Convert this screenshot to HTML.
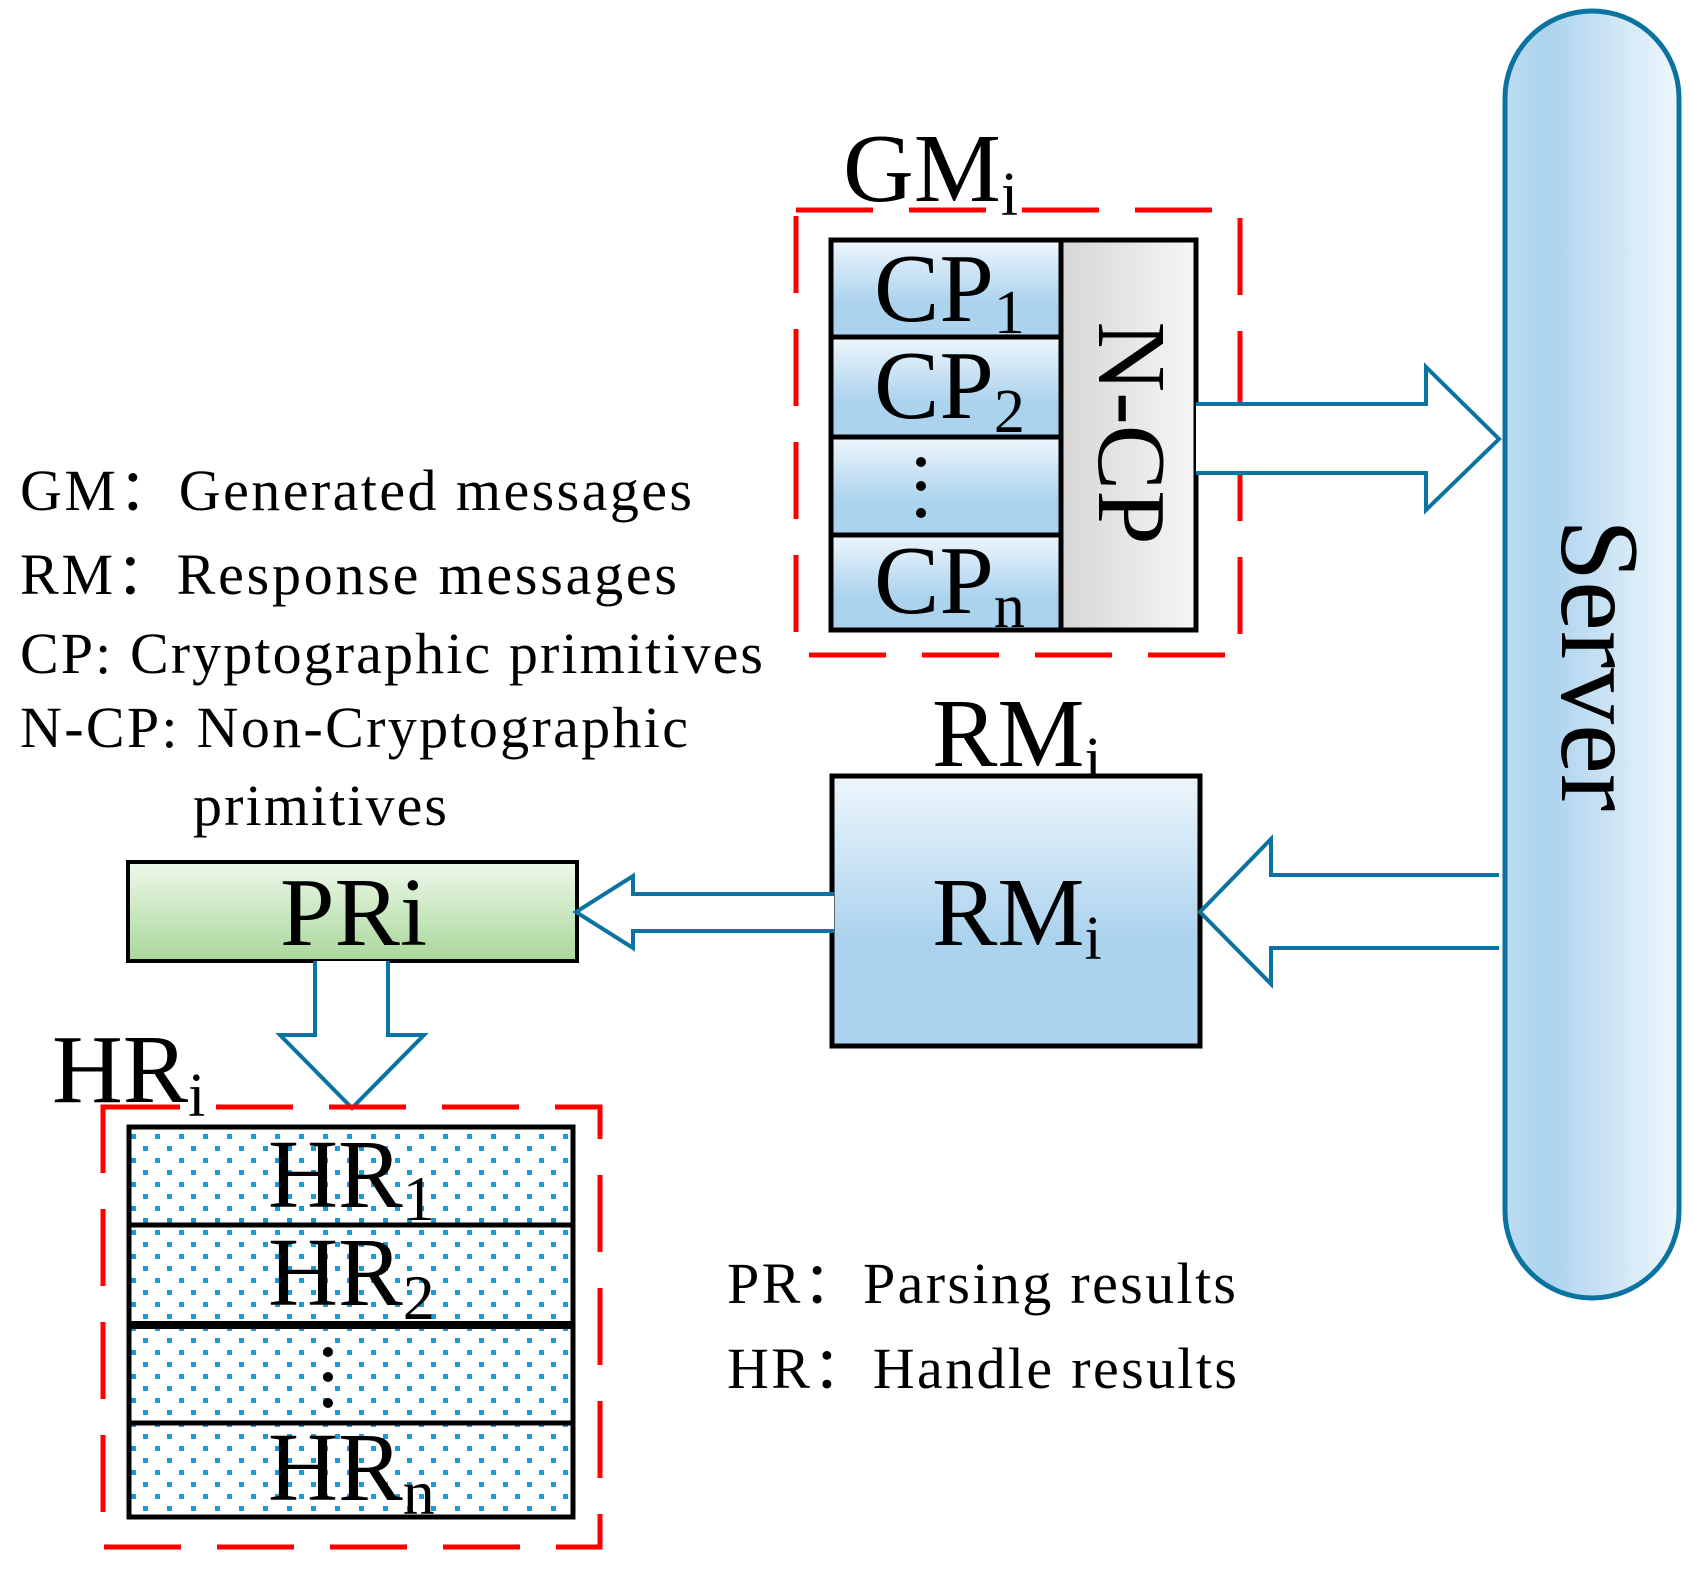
<!DOCTYPE html>
<html><head><meta charset="utf-8"><style>
html,body{margin:0;padding:0;background:#fff;}
svg{display:block;}
text{font-family:"Liberation Serif",serif;fill:#000;}
</style></head><body>
<svg width="1694" height="1569" viewBox="0 0 1694 1569" xmlns="http://www.w3.org/2000/svg">
<defs>
<linearGradient id="blueV" x1="0" y1="0" x2="0" y2="1">
<stop offset="0" stop-color="#eef6fc"/><stop offset="0.65" stop-color="#acd3ee"/><stop offset="1" stop-color="#acd3ee"/>
</linearGradient>
<linearGradient id="greyH" x1="0" y1="0" x2="1" y2="0">
<stop offset="0" stop-color="#d6d6d6"/><stop offset="1" stop-color="#f6f6f6"/>
</linearGradient>
<linearGradient id="serverH" x1="0" y1="0" x2="1" y2="0">
<stop offset="0" stop-color="#bcdcf0"/><stop offset="0.25" stop-color="#acd3ee"/><stop offset="1" stop-color="#eff7fc"/>
</linearGradient>
<linearGradient id="greenV" x1="0" y1="0" x2="0" y2="1">
<stop offset="0" stop-color="#eef8ea"/><stop offset="1" stop-color="#a9d79a"/>
</linearGradient>
<linearGradient id="rmV" x1="0" y1="0" x2="0" y2="1">
<stop offset="0" stop-color="#eef6fc"/><stop offset="0.6" stop-color="#acd3ee"/><stop offset="1" stop-color="#acd3ee"/>
</linearGradient>
<pattern id="dots" x="127" y="1125" width="24" height="24" patternUnits="userSpaceOnUse">
<rect width="24" height="24" fill="#fff"/>
<rect x="4" y="9" width="5" height="5" fill="#1e9ad6"/>
<rect x="16" y="21" width="5" height="5" fill="#1e9ad6"/>
<rect x="16" y="-3" width="5" height="5" fill="#1e9ad6"/>
</pattern>
</defs>

<!-- Server -->
<rect x="1505" y="11" width="174" height="1287" rx="87" ry="87" fill="url(#serverH)" stroke="#0b73a0" stroke-width="5"/>
<text x="0" y="0" font-size="112" text-anchor="middle" transform="translate(1562,665) rotate(90)">Server</text>

<!-- GM dashed -->
<rect x="796" y="210" width="444" height="445" fill="none" stroke="#ff0000" stroke-width="5" stroke-dasharray="77 36"/>
<text x="843" y="201" font-size="98">GM<tspan font-size="62" dy="14">i</tspan></text>
<rect x="831" y="240" width="230" height="97" fill="url(#blueV)"/>
<rect x="831" y="337" width="230" height="100" fill="url(#blueV)"/>
<rect x="831" y="437" width="230" height="98" fill="url(#blueV)"/>
<rect x="831" y="535" width="230" height="95" fill="url(#blueV)"/>
<rect x="1061" y="240" width="135" height="390" fill="url(#greyH)"/>
<rect x="831" y="240" width="365" height="390" fill="none" stroke="#000" stroke-width="5"/>
<line x1="1061" y1="238" x2="1061" y2="632" stroke="#000" stroke-width="5"/>
<line x1="831" y1="337" x2="1061" y2="337" stroke="#000" stroke-width="5"/>
<line x1="831" y1="437" x2="1061" y2="437" stroke="#000" stroke-width="5"/>
<line x1="831" y1="535" x2="1061" y2="535" stroke="#000" stroke-width="5"/>
<text x="874" y="321" font-size="98">CP<tspan font-size="62" dy="12">1</tspan></text>
<text x="874" y="418" font-size="98">CP<tspan font-size="62" dy="14">2</tspan></text>
<circle cx="921" cy="462" r="5"/><circle cx="921" cy="486" r="5"/><circle cx="921" cy="513" r="5"/>
<text x="874" y="613" font-size="98">CP<tspan font-size="62" dy="14">n</tspan></text>
<text x="0" y="0" font-size="98" text-anchor="middle" transform="translate(1099,433) rotate(90)">N-CP</text>

<!-- Arrow GM -> Server -->
<path d="M1196,404 L1426,404 L1426,367 L1499,439 L1426,510 L1426,473 L1196,473" fill="#fff" stroke="#0b73a0" stroke-width="4"/>

<!-- Legend -->
<text x="20" y="510" font-size="58" textLength="672" lengthAdjust="spacing">GM：Generated messages</text>
<text x="20" y="594" font-size="58" textLength="657" lengthAdjust="spacing">RM：Response messages</text>
<text x="20" y="673" font-size="58" textLength="743" lengthAdjust="spacing">CP: Cryptographic primitives</text>
<text x="20" y="747" font-size="58" textLength="668" lengthAdjust="spacing">N-CP: Non-Cryptographic</text>
<text x="193" y="825" font-size="58" textLength="254" lengthAdjust="spacing">primitives</text>

<!-- RM -->
<text x="932" y="766" font-size="98">RM<tspan font-size="62" dy="14">i</tspan></text>
<rect x="832" y="776" width="368" height="270" fill="url(#rmV)" stroke="#000" stroke-width="5"/>
<text x="932" y="945" font-size="98">RM<tspan font-size="62" dy="14">i</tspan></text>

<!-- Arrow Server -> RM -->
<path d="M1499,875 L1271,875 L1271,839 L1200,912 L1271,984 L1271,948 L1499,948" fill="#fff" stroke="#0b73a0" stroke-width="4"/>

<!-- PRi -->
<rect x="128" y="862" width="449" height="99" fill="url(#greenV)" stroke="#000" stroke-width="4"/>
<text x="280" y="945" font-size="98">PRi</text>

<!-- Arrow RM -> PRi -->
<path d="M834,894 L633,894 L633,876 L576,912 L633,948 L633,931 L834,931" fill="#fff" stroke="#0b73a0" stroke-width="4"/>

<!-- Arrow PRi -> HR -->
<path d="M315,961 L315,1035 L280,1035 L352,1108 L424,1035 L388,1035 L388,961" fill="#fff" stroke="#0b73a0" stroke-width="4"/>

<!-- HR -->
<text x="52" y="1102" font-size="98">HR<tspan font-size="62" dy="14">i</tspan></text>
<rect x="103" y="1107" width="497" height="440" fill="none" stroke="#ff0000" stroke-width="5" stroke-dasharray="77 36"/>
<rect x="129" y="1127" width="444" height="390" fill="url(#dots)"/>
<rect x="129" y="1127" width="444" height="390" fill="none" stroke="#000" stroke-width="5"/>
<line x1="129" y1="1225" x2="573" y2="1225" stroke="#000" stroke-width="5"/>
<line x1="129" y1="1325" x2="573" y2="1325" stroke="#000" stroke-width="8"/>
<line x1="129" y1="1423" x2="573" y2="1423" stroke="#000" stroke-width="5"/>
<text x="268" y="1207" font-size="97">HR<tspan font-size="64" dy="13">1</tspan></text>
<text x="268" y="1305" font-size="97">HR<tspan font-size="64" dy="14">2</tspan></text>
<circle cx="328" cy="1352" r="5"/><circle cx="328" cy="1377" r="5"/><circle cx="328" cy="1403" r="5"/>
<text x="268" y="1500" font-size="97">HR<tspan font-size="64" dy="14">n</tspan></text>

<!-- PR/HR legend -->
<text x="727" y="1303" font-size="58" textLength="509" lengthAdjust="spacing">PR：Parsing results</text>
<text x="727" y="1388" font-size="58" textLength="510" lengthAdjust="spacing">HR：Handle results</text>
</svg>
</body></html>
